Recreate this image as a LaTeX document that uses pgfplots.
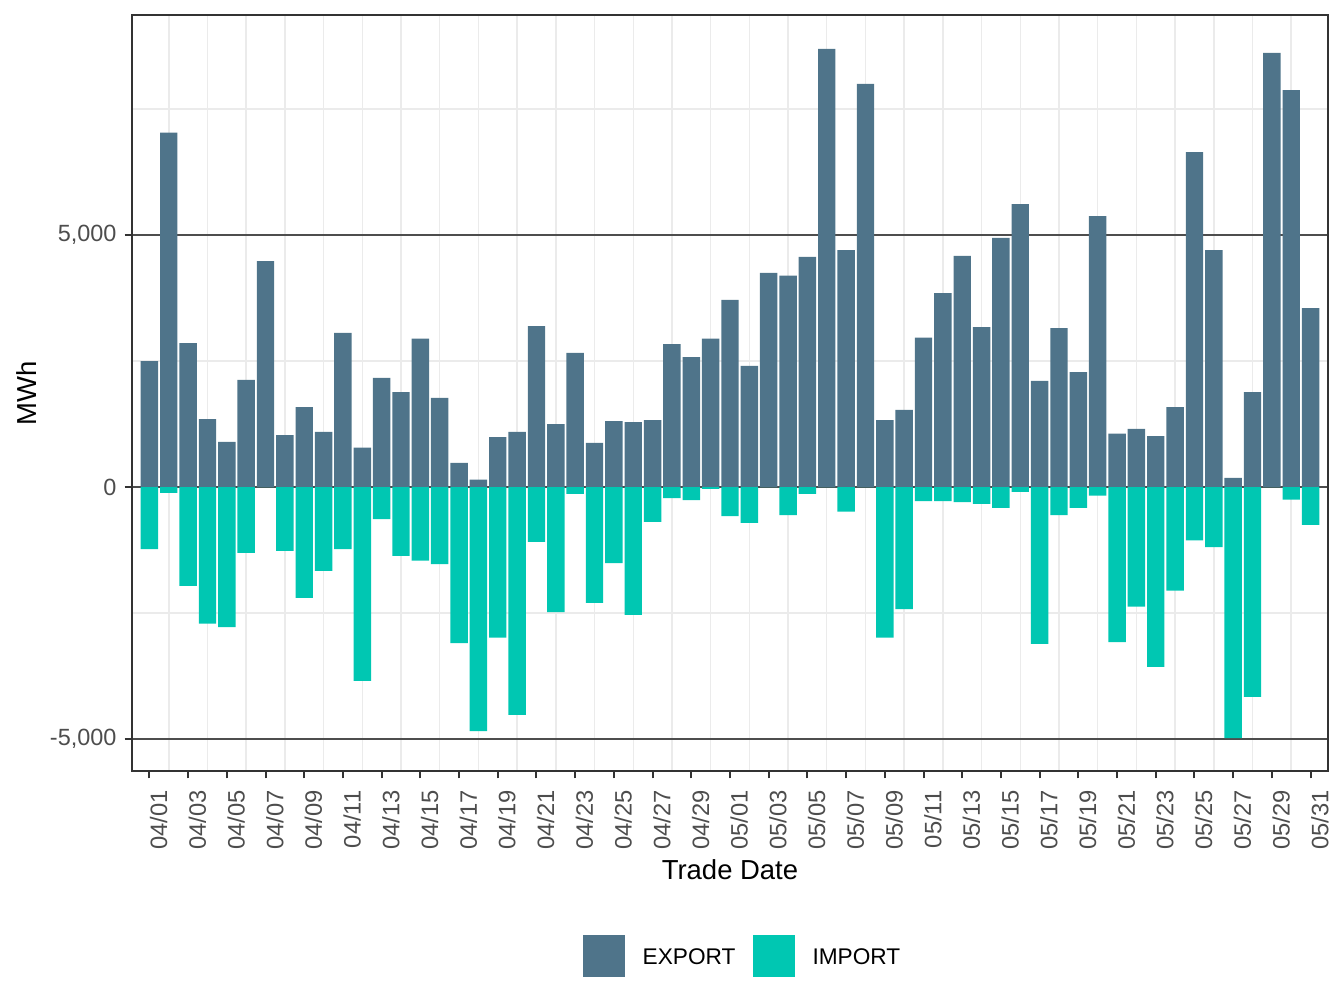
\documentclass[border=0pt]{standalone}
\usepackage{fontspec}
\setmainfont{Liberation Sans}
\usepackage{pgfplots}
\pgfplotsset{compat=1.18}
\usepackage{pgfplotstable}
\definecolor{expc}{HTML}{4F748A}
\definecolor{impc}{HTML}{00C7B2}
\definecolor{gtwenty}{HTML}{333333}
\definecolor{gthirty}{HTML}{4D4D4D}
\definecolor{gnine}{HTML}{EBEBEB}
\pgfplotstableread{
x exp imp
0 2500 -1231
1 7029 -115
2 2856 -1962
3 1346 -2712
4 894 -2779
5 2125 -1308
6 4481 0
7 1029 -1269
8 1587 -2202
9 1096 -1663
10 3058 -1231
11 779 -3846
12 2163 -635
13 1885 -1365
14 2942 -1462
15 1769 -1529
16 481 -3096
17 144 -4846
18 990 -2990
19 1096 -4519
20 3192 -1087
21 1250 -2481
22 2663 -135
23 875 -2298
24 1308 -1510
25 1288 -2538
26 1327 -692
27 2837 -221
28 2577 -260
29 2942 -38
30 3712 -577
31 2404 -712
32 4250 0
33 4192 -558
34 4567 -135
35 8692 0
36 4702 -490
37 8000 0
38 1327 -2990
39 1529 -2423
40 2962 -279
41 3846 -279
42 4587 -298
43 3173 -337
44 4942 -413
45 5615 -96
46 2106 -3115
47 3154 -558
48 2279 -413
49 5375 -173
50 1058 -3077
51 1154 -2375
52 1010 -3567
53 1587 -2058
54 6644 -1058
55 4702 -1192
56 183 -4981
57 1885 -4163
58 8615 0
59 7875 -250
60 3548 -750
}\datatable
\begin{document}
\begin{tikzpicture}
\useasboundingbox (-49.5pt,-88.875pt) rectangle (454.5pt,289.125pt);
\begin{axis}[
  at={(0pt,0pt)}, anchor=south west,
  scale only axis, width=448.5pt, height=283.5pt,
  xmin=-0.9, xmax=60.9, ymin=-5635, ymax=9365,
  ybar, bar width=0.9,
  xtick={0,2,...,60},
  xticklabels={04/01,04/03,04/05,04/07,04/09,04/11,04/13,04/15,04/17,04/19,04/21,04/23,04/25,04/27,04/29,05/01,05/03,05/05,05/07,05/09,05/11,05/13,05/15,05/17,05/19,05/21,05/23,05/25,05/27,05/29,05/31},
  minor xtick={1,3,...,59},
  ytick={-5000,0,5000},
  yticklabels={{-5,000},{0},{5,000}},
  minor ytick={-2500,2500,7500},
  ymajorgrids, yminorgrids, xminorgrids,
  major grid style={draw=gthirty, line width=0.45pt},
  minor grid style={draw=gnine, line width=0.55pt},
  tick align=outside, major tick length=2.75pt, minor tick length=0pt,
  xtick pos=bottom, ytick pos=left,
  major tick style={draw=gtwenty, line width=0.75pt},
  axis line style={draw=gtwenty, line width=0.75pt},
  xticklabel style={rotate=90, anchor=north east, inner sep=0pt, font=\fontsize{8.9}{10}\selectfont, text=gthirty},
  yticklabel style={anchor=east, inner sep=0pt, font=\fontsize{8.8}{10}\selectfont, text=gthirty},
  xticklabel shift=4.35pt,
  yticklabel shift=2.85pt,
  xlabel={Trade Date}, ylabel={MWh},
  xlabel style={at={(axis description cs:0.5,0)}, anchor=base, yshift=-40.6pt, font=\fontsize{10.3}{12}\selectfont},
  ylabel style={at={(axis description cs:0,0.5)}, anchor=base, yshift=35.7pt, font=\fontsize{10.3}{12}\selectfont},
  legend columns=2,
  legend style={at={(axis description cs:0.3768,-0.2473)}, anchor=west, draw=none, fill=none, inner sep=0pt, outer sep=0pt,
    font=\fontsize{8.5}{10}\selectfont, nodes={inner sep=0pt},
    /tikz/every odd column/.append style={column sep=6.75pt},
    /tikz/every even column/.append style={column sep=6.4pt}},
]
\addplot[fill=expc, draw=none, bar shift=0pt,
  legend image code/.code={\fill[expc] (0pt,-4.725pt) rectangle (15.75pt,11.025pt);}]
  table[x=x, y=exp] {\datatable};
\addlegendentry{\raisebox{4.5pt}{EXPORT}}
\addplot[fill=impc, draw=none, bar shift=0pt,
  legend image code/.code={\fill[impc] (0pt,-4.725pt) rectangle (15.75pt,11.025pt);}]
  table[x=x, y=imp] {\datatable};
\addlegendentry{\raisebox{4.5pt}{IMPORT}}
\end{axis}
\end{tikzpicture}
\end{document}
